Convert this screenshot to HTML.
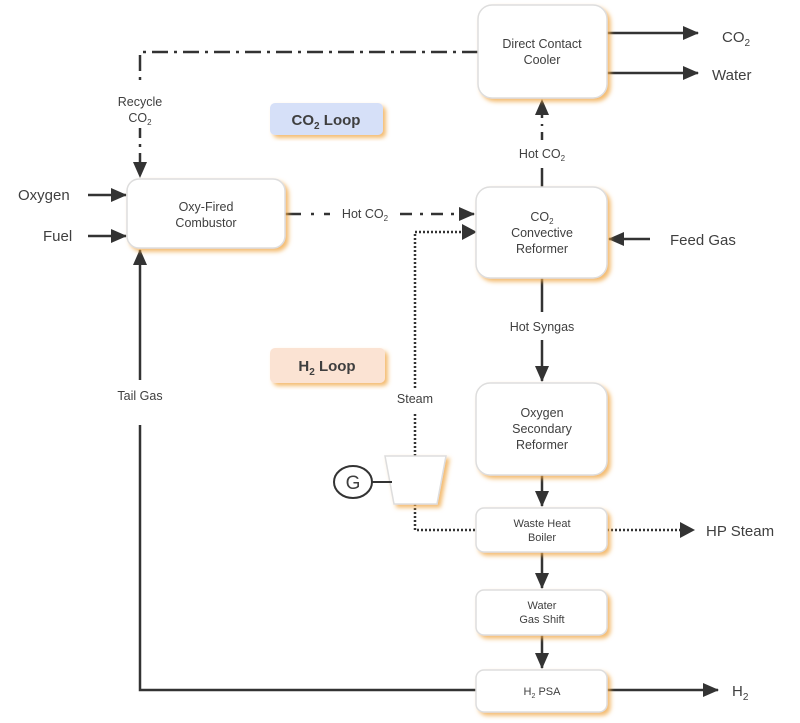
<!DOCTYPE html>
<html><head><meta charset="utf-8"><style>
html,body{margin:0;padding:0;background:#fff}
svg{display:block}
text{font-family:"Liberation Sans",sans-serif;fill:#3f3f3f}
</style></head><body>
<svg width="800" height="723" viewBox="0 0 800 723" xmlns="http://www.w3.org/2000/svg">
<defs>
<filter id="sh" x="-10%" y="-10%" width="130%" height="130%">
<feDropShadow dx="3" dy="3" stdDeviation="2" flood-color="#f0a540" flood-opacity="0.75"/>
</filter>
<marker id="b" markerWidth="16" markerHeight="14" refX="15" refY="7" orient="auto" markerUnits="userSpaceOnUse">
<path d="M0,0 L16,7 L0,14 z" fill="#333"/></marker>
</defs>
<g stroke="#333" stroke-width="2.5" fill="none">
<path d="M478,52 H140 V82" stroke-dasharray="16,6,3,6"/>
<path d="M140,128 V177" stroke-dasharray="10,6,3,6" marker-end="url(#b)"/>
<path d="M88,195 H126" marker-end="url(#b)"/>
<path d="M88,236 H126" marker-end="url(#b)"/>
<path d="M476,690 H140 V425"/>
<path d="M140,380 V250" marker-end="url(#b)"/>
<path d="M285,214 H330" stroke-dasharray="16,10,3,10"/>
<path d="M400,214 H474" stroke-dasharray="12,8,3,8" marker-end="url(#b)"/>
<path d="M542,187 V168"/>
<path d="M542,140 V100" stroke-dasharray="8,6,2,6" marker-end="url(#b)"/>
<path d="M607,33 H698" marker-end="url(#b)"/>
<path d="M607,73 H698" marker-end="url(#b)"/>
<path d="M650,239 H609" marker-end="url(#b)"/>
<path d="M542,278 V312"/>
<path d="M542,340 V381" marker-end="url(#b)"/>
<path d="M542,475 V506" marker-end="url(#b)"/>
<path d="M542,552 V588" marker-end="url(#b)"/>
<path d="M542,635 V668" marker-end="url(#b)"/>
<path d="M607,690 H718" marker-end="url(#b)"/>
</g>
<g stroke="#333" stroke-width="2.5" fill="none" stroke-dasharray="2,2">
<path d="M415,456 V412"/>
<path d="M415,388 V232 H462"/>
<path d="M415,504 V530 H476"/>
<path d="M607,530 H680"/>
</g>
<path d="M462,224 L477,232 L462,240z" fill="#333"/>
<path d="M680,522 L695,530 L680,538z" fill="#333"/>
<g fill="#fff" stroke="#ddd" stroke-width="1.5" filter="url(#sh)">
<rect x="478" y="5" width="129" height="93" rx="14"/>
<rect x="127" y="179" width="158" height="69" rx="12"/>
<rect x="476" y="187" width="131" height="91" rx="14"/>
<rect x="476" y="383" width="131" height="92" rx="14"/>
<rect x="476" y="508" width="131" height="44" rx="8"/>
<rect x="476" y="590" width="131" height="45" rx="8"/>
<rect x="476" y="670" width="131" height="42" rx="8"/>
<path d="M385,456 H446 L437,504 H394 Z"/>
</g>
<rect x="270" y="103" width="113" height="32" rx="5" fill="#d6e0f8" filter="url(#sh)"/>
<rect x="270" y="348" width="115" height="35" rx="5" fill="#fbe3d3" filter="url(#sh)"/>
<line x1="372" y1="482" x2="392" y2="482" stroke="#333" stroke-width="2"/>
<ellipse cx="353" cy="482" rx="19" ry="16" fill="#fff" stroke="#333" stroke-width="2"/>
<text x="353" y="489" font-size="19" text-anchor="middle">G</text>
<g font-size="12.5" text-anchor="middle">
<text x="542" y="48">Direct Contact</text><text x="542" y="64">Cooler</text>
<text x="206" y="211">Oxy-Fired</text><text x="206" y="227">Combustor</text>
<text x="542" y="221">CO<tspan font-size="8" dy="3">2</tspan></text>
<text x="542" y="237">Convective</text><text x="542" y="253">Reformer</text>
<text x="542" y="417">Oxygen</text><text x="542" y="433">Secondary</text><text x="542" y="449">Reformer</text>
<text x="542" y="158">Hot CO<tspan font-size="8" dy="3">2</tspan></text>
<text x="365" y="218">Hot CO<tspan font-size="8" dy="3">2</tspan></text>
<text x="542" y="331">Hot Syngas</text>
<text x="415" y="403">Steam</text>
<text x="140" y="106">Recycle</text>
<text x="140" y="122">CO<tspan font-size="8" dy="3">2</tspan></text>
<text x="140" y="400">Tail Gas</text>
</g>
<g font-size="11" text-anchor="middle">
<text x="542" y="527">Waste Heat</text><text x="542" y="541">Boiler</text>
<text x="542" y="609">Water</text><text x="542" y="623">Gas Shift</text>
<text x="542" y="695">H<tspan font-size="7" dy="3">2</tspan><tspan dy="-3"> PSA</tspan></text>
</g>
<g font-size="15">
<text x="18" y="200">Oxygen</text>
<text x="43" y="241">Fuel</text>
<text x="722" y="42">CO<tspan font-size="10" dy="4">2</tspan></text>
<text x="712" y="80">Water</text>
<text x="670" y="245">Feed Gas</text>
<text x="706" y="536">HP Steam</text>
<text x="732" y="696">H<tspan font-size="10" dy="4">2</tspan></text>
</g>
<g font-size="15" font-weight="bold" text-anchor="middle">
<text x="326" y="125" fill="#111">CO<tspan font-size="10" dy="4">2</tspan><tspan dy="-4"> Loop</tspan></text>
<text x="327" y="371" fill="#111">H<tspan font-size="10" dy="4">2</tspan><tspan dy="-4"> Loop</tspan></text>
</g>
</svg>
</body></html>
